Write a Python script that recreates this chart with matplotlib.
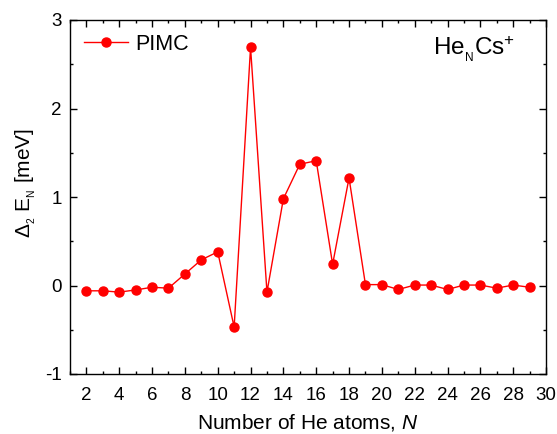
import numpy as np
import matplotlib.pyplot as plt
from matplotlib.ticker import MultipleLocator

plt.rcParams['font.family'] = ['Liberation Sans', 'DejaVu Sans']
plt.rcParams['mathtext.fontset'] = 'custom'
plt.rcParams['mathtext.rm'] = 'Liberation Sans'
plt.rcParams['mathtext.it'] = 'Liberation Sans:italic'
plt.rcParams['axes.unicode_minus'] = False

# data
N = np.arange(2, 30)
dE = [-0.06, -0.06, -0.075, -0.05, -0.02, -0.03, 0.13, 0.29, 0.38, -0.47,
      2.69, -0.075, 0.98, 1.37, 1.41, 0.24, 1.215, 0.01, 0.01, -0.045,
      0.005, 0.005, -0.045, 0.005, 0.005, -0.03, 0.005, -0.02]

fig = plt.figure(figsize=(5.57, 4.34), dpi=100)
ax = fig.add_axes([70/557, 1-374/434, 476/557, 354/434])

ax.plot(N, dE, '-o', color='red', lw=1, ms=6.5, label='PIMC')

ax.set_xlim(1, 30)
ax.set_ylim(-1, 3)
ax.xaxis.set_major_locator(MultipleLocator(2))
ax.xaxis.set_minor_locator(MultipleLocator(1))
ax.yaxis.set_major_locator(MultipleLocator(1))
ax.yaxis.set_minor_locator(MultipleLocator(0.5))
ax.tick_params(which='both', direction='in', top=True, right=True,
               labelsize=13.5, width=1)
ax.tick_params(which='major', length=5)
ax.tick_params(which='minor', length=2.5)
ax.tick_params(axis='x', which='major', pad=9)
ax.tick_params(axis='y', which='major', pad=6)
for s in ax.spines.values():
    s.set_linewidth(1)

ax.set_xlabel('Number of He atoms, $\\mathit{N}$', fontsize=15, labelpad=6)
ax.set_ylabel('$\\Delta_{_2}$ E$_{_\\mathrm{N}}$ [meV]', fontsize=15)
ax.yaxis.set_label_coords(-0.068, 0.54)
ax.text(0.935, 0.918, 'He$_{_\\mathrm{N}}$Cs$^{+}$', transform=ax.transAxes,
        ha='right', va='center', fontsize=17.5)
ax.legend(loc='upper left', frameon=False, fontsize=15.5, handlelength=2.05,
          handletextpad=0.33, borderaxespad=0.25)

plt.savefig('out.png')
